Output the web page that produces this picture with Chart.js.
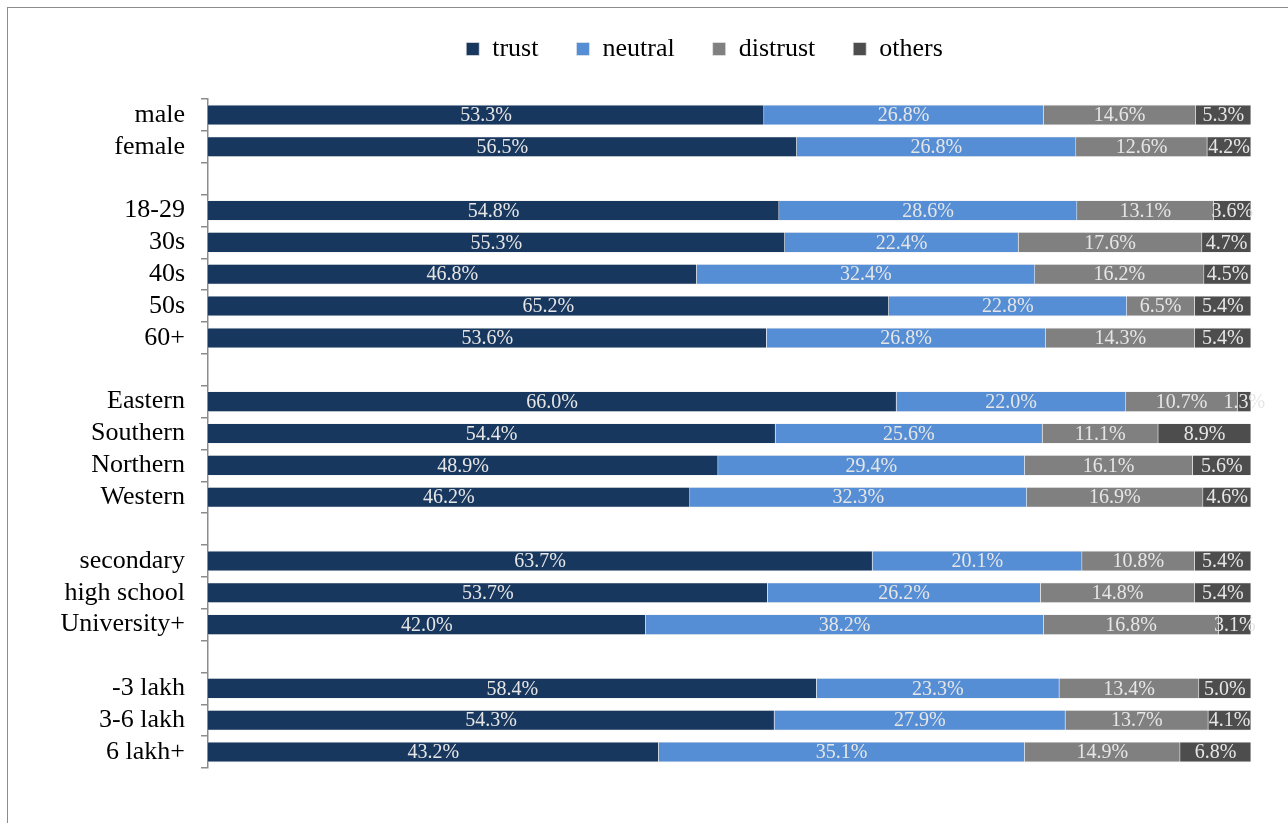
<!DOCTYPE html>
<html lang="en">
<head>
  <meta charset="UTF-8">
  <title>Trust by group</title>
  <script src="https://cdn.jsdelivr.net/npm/chart.js@4.4.0/dist/chart.umd.min.js"></script>
  <style>
    html, body { margin: 0; padding: 0; overflow: hidden; background: #fff; }
    #wrap { position: relative; width: 1288px; height: 823px; }
    #frame {
      position: absolute; left: 7px; top: 7px;
      width: 1400px; height: 900px;
      border: 1px solid #8c8c8c; box-sizing: border-box;
    }
    #chart { position: absolute; left: 0; top: 0; }
  </style>
</head>
<body>
  <div id="wrap">
    <div id="frame"></div>
    <canvas id="chart" width="1288" height="823"></canvas>
  </div>

  <script>
    // categories (blank entries are the gaps between groups)
    var categories = ["male", "female", "",
      "18-29", "30s", "40s", "50s", "60+", "",
      "Eastern", "Southern", "Northern", "Western", "",
      "secondary", "high school", "University+", "",
      "-3 lakh", "3-6 lakh", "6 lakh+"];

    var trust    = [53.3, 56.5, null, 54.8, 55.3, 46.8, 65.2, 53.6, null, 66.0, 54.4, 48.9, 46.2, null, 63.7, 53.7, 42.0, null, 58.4, 54.3, 43.2];
    var neutral  = [26.8, 26.8, null, 28.6, 22.4, 32.4, 22.8, 26.8, null, 22.0, 25.6, 29.4, 32.3, null, 20.1, 26.2, 38.2, null, 23.3, 27.9, 35.1];
    var distrust = [14.6, 12.6, null, 13.1, 17.6, 16.2, 6.5, 14.3, null, 10.7, 11.1, 16.1, 16.9, null, 10.8, 14.8, 16.8, null, 13.4, 13.7, 14.9];
    var others   = [5.3, 4.2, null, 3.6, 4.7, 4.5, 5.4, 5.4, null, 1.3, 8.9, 5.6, 4.6, null, 5.4, 5.4, 3.1, null, 5.0, 4.1, 6.8];

    var seriesNames = ["trust", "neutral", "distrust", "others"];
    var seriesColors = ["#17375e", "#558ed5", "#808080", "#4d4d4d"];
    var series = [trust, neutral, distrust, others];

    // 100% stacked: scale each row to its total, keep the raw value for the label
    var totals = categories.map(function (c, i) {
      var s = 0;
      series.forEach(function (arr) { s += arr[i] || 0; });
      return s;
    });

    var datasets = series.map(function (arr, k) {
      return {
        label: seriesNames[k],
        raw: arr,
        data: arr.map(function (v, i) { return v == null ? null : v / totals[i] * 100; }),
        backgroundColor: seriesColors[k],
        borderColor: "rgba(235,235,235,0.8)",
        borderWidth: 0.8,
        barThickness: 20
      };
    });

    var serif = "'Liberation Serif', 'Times New Roman', serif";

    // draws the value in the middle of each segment
    var segmentLabels = {
      id: "segmentLabels",
      afterDatasetsDraw: function (chart) {
        var ctx = chart.ctx;
        ctx.save();
        ctx.font = "20px " + serif;
        ctx.fillStyle = "#e6e6e6";
        ctx.textAlign = "center";
        ctx.textBaseline = "middle";
        chart.data.datasets.forEach(function (ds, di) {
          chart.getDatasetMeta(di).data.forEach(function (bar, i) {
            var v = ds.raw[i];
            if (v == null) return;
            ctx.fillText(v.toFixed(1) + "%", (bar.x + bar.base) / 2, bar.y + 1);
          });
        });
        ctx.restore();
      }
    };

    // extra room under the legend, and the legend sits a bit right of centre
    var legendPlace = {
      id: "legendPlace",
      beforeLayout: function (chart) {
        var lg = chart.legend;
        if (lg && !lg._gap) {
          var fit = lg.fit;
          lg.fit = function () { fit.call(this); this.height += 27; };
          lg._gap = true;
        }
      },
      afterLayout: function (chart) {
        var lg = chart.legend;
        if (lg) {
          lg.left += 79;
          lg.right += 79;
        }
      }
    };

    new Chart("chart", {
      type: "bar",
      data: {
        labels: categories,
        datasets: datasets
      },
      plugins: [segmentLabels, legendPlace],
      options: {
        indexAxis: "y",
        responsive: false,
        animation: false,
        layout: { padding: { top: -2, right: 37, bottom: 55, left: 0 } },
        plugins: {
          tooltip: { enabled: false },
          legend: {
            position: "top",
            labels: {
              boxWidth: 13,
              boxHeight: 13,
              padding: 38,
              color: "#000",
              font: { family: serif, size: 26 }
            }
          }
        },
        scales: {
          x: {
            stacked: true,
            min: 0,
            max: 100,
            display: false
          },
          y: {
            stacked: true,
            afterFit: function (scale) { scale.width = 208; },
            border: { display: true, color: "#8c8c8c", width: 1.5 },
            grid: {
              drawOnChartArea: false,
              drawTicks: true,
              tickLength: 7,
              color: "#8c8c8c",
              lineWidth: 1.5
            },
            ticks: {
              color: "#000",
              padding: 16,
              autoSkip: false,
              font: { family: serif, size: 26 }
            }
          }
        }
      }
    });
  </script>
</body>
</html>
